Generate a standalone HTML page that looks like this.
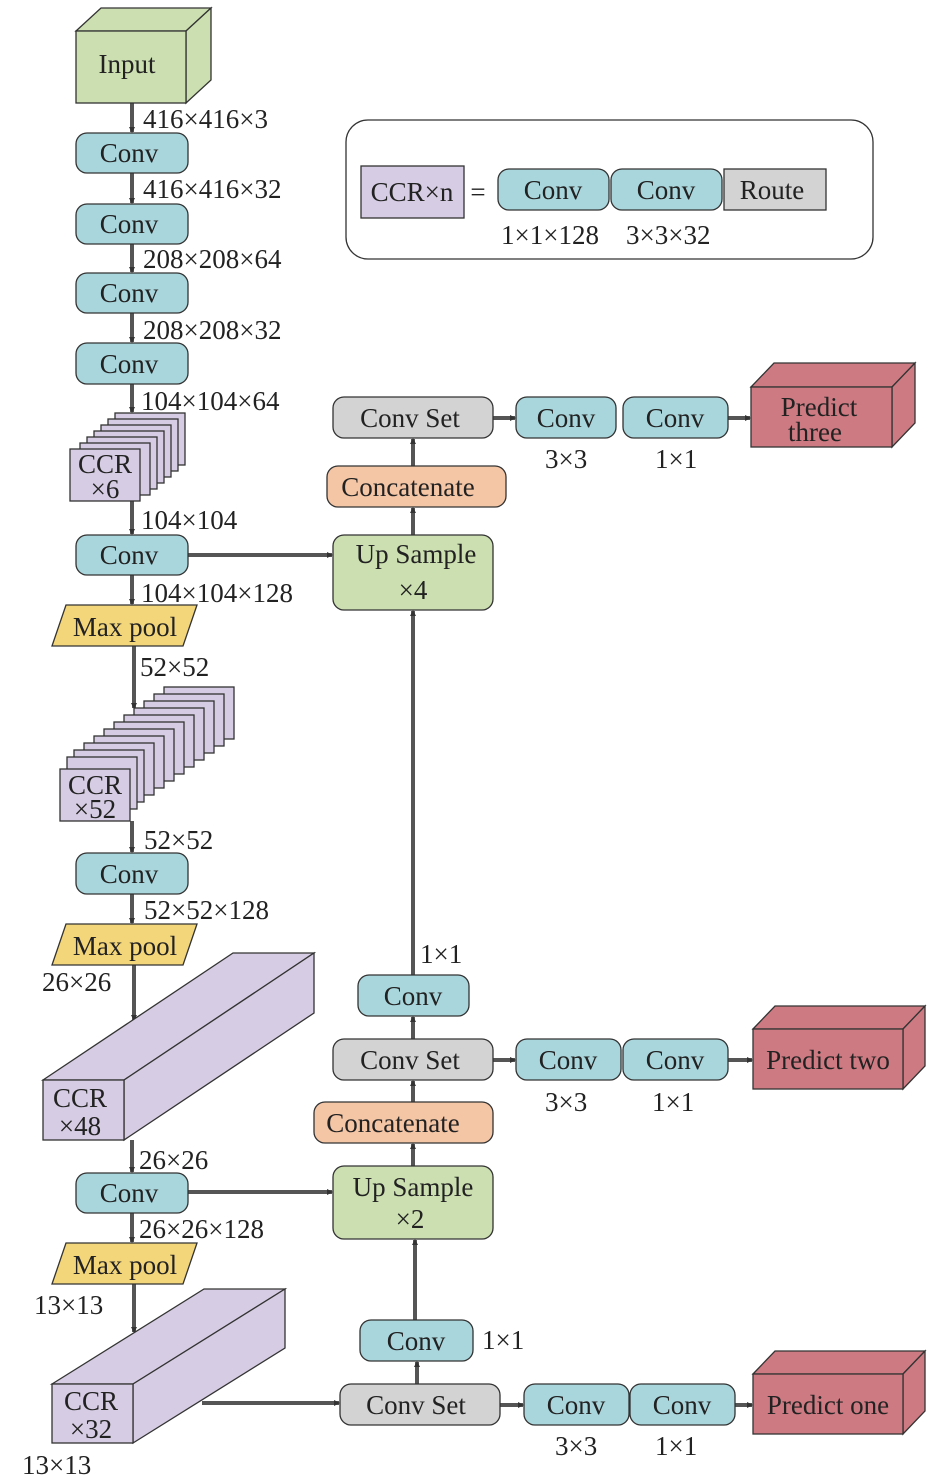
<!DOCTYPE html>
<html><head><meta charset="utf-8"><style>
body{margin:0;background:#fff}
svg{display:block}
text{font-family:"Liberation Serif",serif;font-size:27px;fill:#222}
.c{text-anchor:middle}
.ln{stroke:#555;stroke-width:4;fill:none}
.bx{stroke:#333;stroke-width:1.3}
</style></head><body>
<svg width="945" height="1483" viewBox="0 0 945 1483" xmlns="http://www.w3.org/2000/svg">
<defs>
<marker id="a" markerWidth="6" markerHeight="6" refX="5" refY="3" orient="auto" markerUnits="userSpaceOnUse"><path d="M0,0 L6,3 L0,6z" fill="#333"/></marker>
</defs>
<!-- left vertical connectors -->
<g class="ln" marker-end="url(#a)">
<line x1="132" y1="103" x2="132" y2="132"/>
<line x1="132" y1="173" x2="132" y2="203"/>
<line x1="132" y1="244" x2="132" y2="272"/>
<line x1="132" y1="313" x2="132" y2="342"/>
<line x1="132" y1="384" x2="132" y2="412"/>
<line x1="132" y1="501" x2="132" y2="534"/>
<line x1="132" y1="575" x2="132" y2="604"/>
<line x1="134" y1="646" x2="134" y2="708"/>
<line x1="132" y1="821" x2="132" y2="852"/>
<line x1="132" y1="894" x2="132" y2="923"/>
<line x1="134" y1="965" x2="134" y2="1020"/>
<line x1="132" y1="1140" x2="132" y2="1172"/>
<line x1="132" y1="1213" x2="132" y2="1242"/>
<line x1="134" y1="1284" x2="134" y2="1332"/>
<line x1="188" y1="555" x2="332" y2="555"/>
<line x1="188" y1="1192" x2="332" y2="1192"/>
<line x1="202" y1="1403" x2="339" y2="1403"/>
<line x1="413" y1="975" x2="413" y2="611"/>
<line x1="413" y1="535" x2="413" y2="508"/>
<line x1="413" y1="466" x2="413" y2="439"/>
<line x1="413" y1="1039" x2="413" y2="1017"/>
<line x1="413" y1="1102" x2="413" y2="1081"/>
<line x1="413" y1="1166" x2="413" y2="1144"/>
<line x1="415" y1="1320" x2="415" y2="1240"/>
<line x1="417" y1="1384" x2="417" y2="1362"/>
<line x1="493" y1="418" x2="515" y2="418"/>
<line x1="728" y1="418" x2="750" y2="418"/>
<line x1="493" y1="1060" x2="515" y2="1060"/>
<line x1="728" y1="1060" x2="752" y2="1060"/>
<line x1="500" y1="1405" x2="523" y2="1405"/>
<line x1="735" y1="1405" x2="752" y2="1405"/>
</g>
<!-- Input cube -->
<g class="bx" fill="#cbdfb0">
<polygon points="76,31 101,8 211,8 186,31"/>
<polygon points="186,31 211,8 211,80 186,103"/>
<rect x="76" y="31" width="110" height="72"/>
</g>
<text x="127" y="73" class="c">Input</text>
<!-- left convs -->
<g class="bx" fill="#a9d6dc">
<rect x="76" y="133" width="112" height="40" rx="11"/>
<rect x="76" y="204" width="112" height="40" rx="11"/>
<rect x="76" y="273" width="112" height="40" rx="11"/>
<rect x="76" y="343" width="112" height="41" rx="11"/>
<rect x="76" y="535" width="112" height="40" rx="11"/>
<rect x="76" y="853" width="112" height="41" rx="11"/>
<rect x="76" y="1173" width="112" height="40" rx="11"/>
</g>
<text x="129" y="162" class="c">Conv</text>
<text x="129" y="233" class="c">Conv</text>
<text x="129" y="302" class="c">Conv</text>
<text x="129" y="373" class="c">Conv</text>
<text x="129" y="564" class="c">Conv</text>
<text x="129" y="883" class="c">Conv</text>
<text x="129" y="1202" class="c">Conv</text>
<text x="143" y="128">416×416×3</text>
<text x="143" y="198">416×416×32</text>
<text x="143" y="268">208×208×64</text>
<text x="143" y="339">208×208×32</text>
<text x="141" y="410">104×104×64</text>
<text x="141" y="529">104×104</text>
<text x="141" y="602">104×104×128</text>
<text x="140" y="676">52×52</text>
<text x="144" y="849">52×52</text>
<text x="144" y="919">52×52×128</text>
<text x="42" y="991">26×26</text>
<text x="139" y="1169">26×26</text>
<text x="139" y="1238">26×26×128</text>
<text x="34" y="1314">13×13</text>
<text x="22" y="1474">13×13</text>
<!-- CCR x6 stack -->
<g class="bx" fill="#d6cce3">
<rect x="115" y="413" width="70" height="52"/>
<rect x="108" y="419" width="70" height="52"/>
<rect x="101" y="425" width="70" height="52"/>
<rect x="94" y="431" width="70" height="52"/>
<rect x="87" y="437" width="70" height="52"/>
<rect x="80" y="443" width="70" height="52"/>
<rect x="70" y="449" width="70" height="52"/>
</g>
<text x="105" y="473" class="c">CCR</text>
<text x="105" y="498" class="c">×6</text>
<!-- Max pools -->
<g class="bx" fill="#f4d67a">
<polygon points="66,605 197,605 183,646 52,646"/>
<polygon points="66,924 197,924 183,965 52,965"/>
<polygon points="66,1243 197,1243 183,1284 52,1284"/>
</g>
<text x="125" y="636" class="c">Max pool</text>
<text x="125" y="955" class="c">Max pool</text>
<text x="125" y="1274" class="c">Max pool</text>
<!-- CCR x52 stack -->
<g class="bx" fill="#d6cce3">
<rect x="164" y="687" width="70" height="52"/>
<rect x="154" y="694" width="70" height="52"/>
<rect x="144" y="701" width="70" height="52"/>
<rect x="134" y="708" width="70" height="52"/>
<rect x="124" y="715" width="70" height="52"/>
<rect x="114" y="722" width="70" height="52"/>
<rect x="104" y="729" width="70" height="52"/>
<rect x="94" y="736" width="70" height="52"/>
<rect x="84" y="743" width="70" height="52"/>
<rect x="74" y="750" width="70" height="52"/>
<rect x="67" y="757" width="70" height="52"/>
<rect x="60" y="769" width="70" height="52"/>
</g>
<text x="95" y="794" class="c">CCR</text>
<text x="95" y="818" class="c">×52</text>
<!-- CCR x48 -->
<g class="bx" fill="#d6cce3">
<polygon points="43,1080 233,953 314,953 124,1080"/>
<polygon points="124,1080 314,953 314,1013 124,1140"/>
<rect x="43" y="1080" width="81" height="60"/>
</g>
<text x="80" y="1107" class="c">CCR</text>
<text x="80" y="1135" class="c">×48</text>
<!-- CCR x32 -->
<g class="bx" fill="#d6cce3">
<polygon points="52,1384 204,1289 285,1289 133,1384"/>
<polygon points="133,1384 285,1289 285,1348 133,1443"/>
<rect x="52" y="1384" width="81" height="59"/>
</g>
<text x="91" y="1410" class="c">CCR</text>
<text x="91" y="1438" class="c">×32</text>
<!-- legend -->
<rect x="346" y="120" width="527" height="139" rx="22" fill="#fff" stroke="#333" stroke-width="1.3"/>
<rect class="bx" x="361" y="166" width="103" height="52" fill="#d6cce3"/>
<text x="412" y="201" class="c">CCR×n</text>
<text x="478" y="201" class="c">=</text>
<g class="bx" fill="#a9d6dc">
<rect x="498" y="169" width="111" height="41" rx="11"/>
<rect x="611" y="169" width="111" height="41" rx="11"/>
</g>
<rect class="bx" x="724" y="169" width="102" height="41" fill="#d3d3d3"/>
<text x="553" y="199" class="c">Conv</text>
<text x="666" y="199" class="c">Conv</text>
<text x="772" y="199" class="c">Route</text>
<text x="501" y="244">1×1×128</text>
<text x="626" y="244">3×3×32</text>
<!-- right column boxes -->
<g class="bx">
<rect x="333" y="397" width="160" height="41" rx="11" fill="#d3d3d3"/>
<rect x="327" y="466" width="179" height="41" rx="11" fill="#f5c6a6"/>
<rect x="333" y="535" width="160" height="75" rx="11" fill="#cbdfb0"/>
<rect x="358" y="975" width="111" height="41" rx="11" fill="#a9d6dc"/>
<rect x="333" y="1039" width="160" height="41" rx="11" fill="#d3d3d3"/>
<rect x="314" y="1102" width="179" height="41" rx="11" fill="#f5c6a6"/>
<rect x="333" y="1166" width="160" height="73" rx="11" fill="#cbdfb0"/>
<rect x="360" y="1320" width="113" height="41" rx="11" fill="#a9d6dc"/>
<rect x="340" y="1384" width="160" height="41" rx="11" fill="#d3d3d3"/>
<rect x="516" y="397" width="100" height="41" rx="11" fill="#a9d6dc"/>
<rect x="623" y="397" width="105" height="41" rx="11" fill="#a9d6dc"/>
<rect x="516" y="1039" width="105" height="41" rx="11" fill="#a9d6dc"/>
<rect x="623" y="1039" width="105" height="41" rx="11" fill="#a9d6dc"/>
<rect x="524" y="1384" width="105" height="41" rx="11" fill="#a9d6dc"/>
<rect x="630" y="1384" width="105" height="41" rx="11" fill="#a9d6dc"/>
</g>
<text x="410" y="427" class="c">Conv Set</text>
<text x="408" y="496" class="c">Concatenate</text>
<text x="416" y="563" class="c">Up Sample</text>
<text x="413" y="599" class="c">×4</text>
<text x="413" y="1005" class="c">Conv</text>
<text x="410" y="1069" class="c">Conv Set</text>
<text x="393" y="1132" class="c">Concatenate</text>
<text x="413" y="1196" class="c">Up Sample</text>
<text x="410" y="1228" class="c">×2</text>
<text x="416" y="1350" class="c">Conv</text>
<text x="416" y="1414" class="c">Conv Set</text>
<text x="566" y="427" class="c">Conv</text>
<text x="675" y="427" class="c">Conv</text>
<text x="568" y="1069" class="c">Conv</text>
<text x="675" y="1069" class="c">Conv</text>
<text x="576" y="1414" class="c">Conv</text>
<text x="682" y="1414" class="c">Conv</text>
<text x="545" y="468">3×3</text>
<text x="655" y="468">1×1</text>
<text x="545" y="1111">3×3</text>
<text x="652" y="1111">1×1</text>
<text x="555" y="1455">3×3</text>
<text x="655" y="1455">1×1</text>
<text x="420" y="963">1×1</text>
<text x="482" y="1349">1×1</text>
<!-- predict cubes -->
<g class="bx" fill="#cd7a82">
<polygon points="751,387 774,363 915,363 892,387"/>
<polygon points="892,387 915,363 915,423 892,447"/>
<rect x="751" y="387" width="141" height="60"/>
<polygon points="753,1029 775,1006 925,1006 903,1029"/>
<polygon points="903,1029 925,1006 925,1066 903,1089"/>
<rect x="753" y="1029" width="150" height="60"/>
<polygon points="753,1374 775,1351 925,1351 903,1374"/>
<polygon points="903,1374 925,1351 925,1411 903,1434"/>
<rect x="753" y="1374" width="150" height="60"/>
</g>
<text x="819" y="416" class="c">Predict</text>
<text x="815" y="441" class="c">three</text>
<text x="828" y="1069" class="c">Predict two</text>
<text x="828" y="1414" class="c">Predict one</text>
</svg>
</body></html>
